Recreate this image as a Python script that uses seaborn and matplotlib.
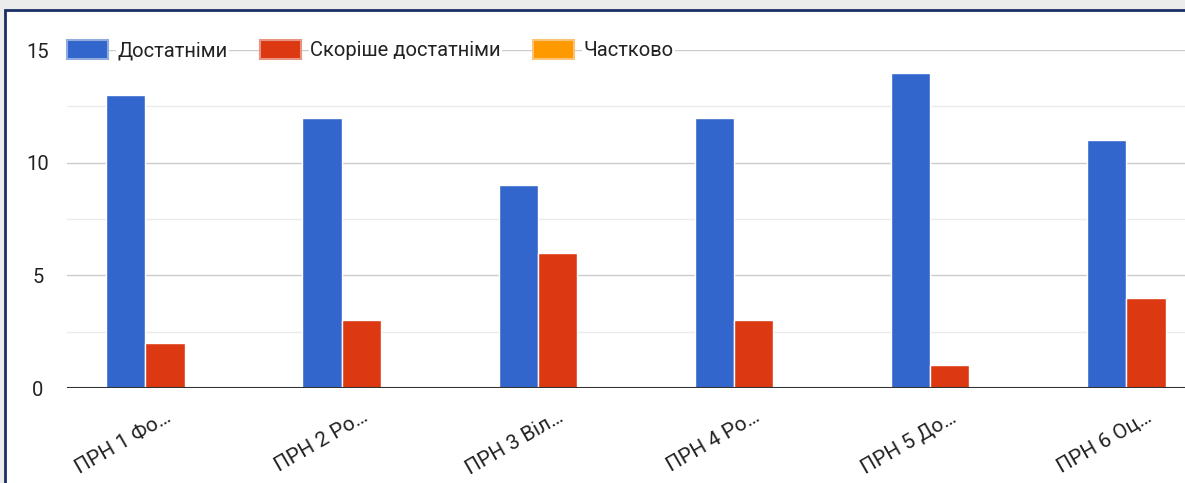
import pandas as pd
import numpy as np
import matplotlib
matplotlib.use("Agg")
import matplotlib.pyplot as plt
import seaborn as sns
from matplotlib.patches import Rectangle

# -------------------------------
# DATA
# -------------------------------
categories = ["ПРН 1 Фо…", "ПРН 2 Ро…", "ПРН 3 Віл…", "ПРН 4 Ро…", "ПРН 5 До…", "ПРН 6 Оц…"]
series_names = ["Достатніми", "Скоріше достатніми", "Частково"]
sufficient = [13, 12, 9, 12, 14, 11]
rather_sufficient = [2, 3, 6, 3, 1, 4]
partially = [0, 0, 0, 0, 0, 0]
y_ticks = [0, 5, 10, 15]

colors = ["#3366CC", "#DC3912", "#FF9900"]

df = pd.DataFrame({
    "category": categories * 3,
    "series": [s for s in series_names for _ in categories],
    "value": sufficient + rather_sufficient + partially,
})

# -------------------------------
# FIGURE
# -------------------------------
sns.set_style("white")
plt.rcParams["font.family"] = ["Roboto", "DejaVu Sans"]

W, H = 1185, 483
fig = plt.figure(figsize=(W / 100, H / 100), dpi=100)
fig.patch.set_facecolor("#ececec")

# white card, navy border (right/bottom edges fall outside the picture)
fig.patches.append(Rectangle((5 / W, -0.2), 1.2, 0.2 + (H - 10) / H, transform=fig.transFigure,
                             facecolor="white", edgecolor="#1a2f66", lw=2, zorder=0))

ax = fig.add_axes([67 / W, 95 / H, 1177 / W, 338 / H])
ax.set_facecolor("none")
ax.set_zorder(3)

sns.barplot(data=df, x="category", y="value", hue="series", hue_order=series_names,
            palette=colors, saturation=1, width=0.6, edgecolor="white", linewidth=1,
            errorbar=None, ax=ax, zorder=3)

ax.set_xlim(-0.5, len(categories) - 0.5)
ax.set_ylim(0, 15)
ax.set_yticks(y_ticks)
ax.set_yticks([2.5, 7.5, 12.5], minor=True)
ax.grid(axis="y", which="major", color="#cccccc", lw=1, zorder=0)
ax.grid(axis="y", which="minor", color="#ebebeb", lw=1, zorder=0)
ax.axhline(0, color="#333333", lw=1.5, zorder=4)
ax.set_axisbelow(True)
for s in ax.spines.values():
    s.set_visible(False)

ax.set_xlabel("")
ax.set_ylabel("")
ax.tick_params(axis="y", which="both", length=0, pad=21, labelsize=14.5, labelcolor="#222222")
for t in ax.get_yticklabels():
    t.set_ha("center")
ax.tick_params(axis="x", length=0, pad=14, labelsize=15, labelcolor="#222222")
for t in ax.get_xticklabels():
    t.set_rotation(30)
    t.set_ha("right")
    t.set_va("top")
    t.set_rotation_mode("anchor")

# legend on top gridline
handles, labels = ax.get_legend_handles_labels()
leg = ax.legend(handles, labels, ncol=3, frameon=False, loc="center left",
                bbox_to_anchor=(0, 1.0), borderpad=0, borderaxespad=0,
                handlelength=2.05, handleheight=1.05, handletextpad=0.45,
                columnspacing=1.6, fontsize=14.5)
for h, c in zip(leg.legend_handles, colors):
    h.set_edgecolor(sns.light_palette(c, 3)[1])
    h.set_linewidth(1.5)
for t in leg.get_texts():
    t.set_color("#222222")
    t.set_bbox(dict(facecolor="white", edgecolor="none", pad=1))
leg.set_zorder(5)

fig.savefig("out.png", dpi=100)
